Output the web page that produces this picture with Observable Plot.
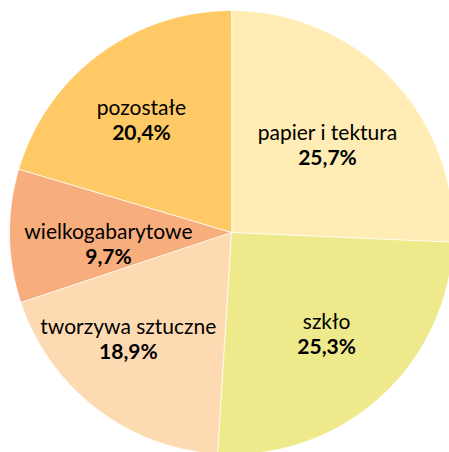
<!DOCTYPE html>
<html>
<head>
<meta charset="utf-8">
<script src="https://cdn.jsdelivr.net/npm/d3@7"></script>
<script src="https://cdn.jsdelivr.net/npm/@observablehq/plot@0.6"></script>
<style>
  html, body { margin: 0; padding: 0; background: #fff; overflow: hidden; }
</style>
</head>
<body>
<div id="chart"></div>
<script>
// ---- data ----
const categories = ["papier i tektura", "szkło", "tworzywa sztuczne", "wielkogabarytowe", "pozostałe"];
const shares = [25.7, 25.3, 18.9, 9.7, 20.4];
const colors = ["#FFEDB5", "#EEEA8B", "#FEDAB3", "#F8AE7C", "#FFCA66"];

// ---- layout tweaks (label placement, polar) ----
const labelAngleShift = [1.7, -0.9, 6.2, -4.7, -2.1]; // degrees
const labelRadius = [0.582, 0.63, 0.671, 0.557, 0.647];

const table = categories.map((c, i) => ({name: c, value: shares[i], color: colors[i]}));
const arcs = d3.pie().sort(null).value(d => d.value).startAngle(0).endAngle(2 * Math.PI)(table);

// polygon points for each slice (unit circle, clockwise from top)
const pts = [];
arcs.forEach(a => {
  const name = a.data.name;
  pts.push({name, x: 0, y: 0});
  const n = Math.max(2, Math.ceil((a.endAngle - a.startAngle) / (Math.PI / 360)));
  for (let k = 0; k <= n; k++) {
    const t = a.startAngle + (a.endAngle - a.startAngle) * k / n;
    pts.push({name, x: Math.sin(t), y: Math.cos(t)});
  }
});

const labels = arcs.map((a, i) => {
  const mid = (a.startAngle + a.endAngle) / 2 + labelAngleShift[i] * Math.PI / 180;
  return {
    name: a.data.name,
    val: a.data.value.toFixed(1).replace(".", ",") + "%",
    x: labelRadius[i] * Math.sin(mid),
    y: labelRadius[i] * Math.cos(mid)
  };
});

const font = "Lato, 'Open Sans', sans-serif";
const chart = Plot.plot({
  width: 449,
  height: 452,
  margin: 0,
  x: {domain: [-1, 1], range: [9, 453], axis: null},
  y: {domain: [-1, 1], range: [454, 10], axis: null},
  color: {domain: categories, range: colors},
  style: {fontFamily: font, background: "white", overflow: "hidden"},
  marks: [
    Plot.line(pts, {x: "x", y: "y", z: "name", fill: "name", stroke: "white", strokeWidth: 0.8, curve: "linear-closed"}),
    Plot.text(labels, {x: "x", y: "y", text: "name", dy: -12.3, fontSize: 21, fill: "#000", fontFamily: font}),
    Plot.text(labels, {x: "x", y: "y", text: "val", dy: 12.3, fontSize: 21, fontWeight: "bold", fill: "#000", fontFamily: font})
  ]
});
document.getElementById("chart").appendChild(chart);
</script>
</body>
</html>
